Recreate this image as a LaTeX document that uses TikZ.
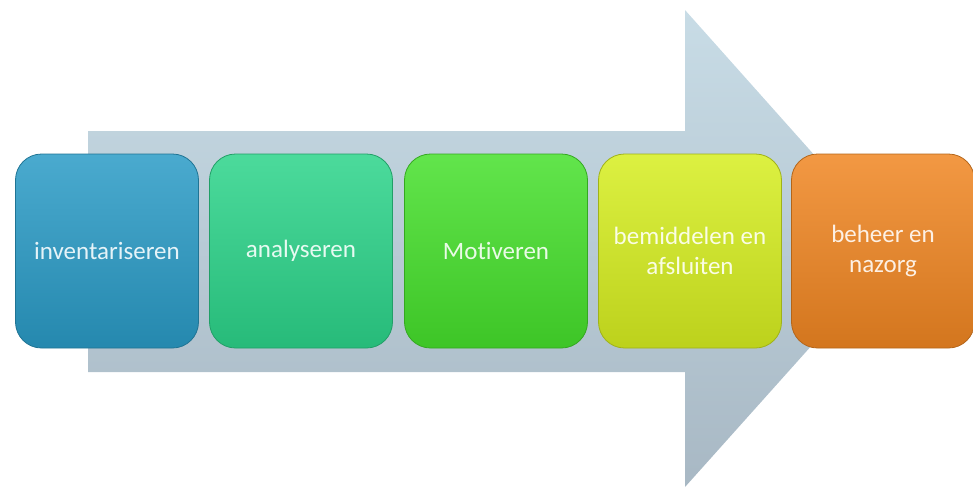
\documentclass[tikz,border=0pt]{standalone}
\usepackage{fontspec}
\setmainfont{Carlito}[Ligatures=NoCommon]
\usepackage{tikz}

\definecolor{pijl}{RGB}{188,205,216}
\definecolor{pijltop}{RGB}{200,220,230}
\definecolor{pijlbodem}{RGB}{168,184,196}
\definecolor{blauw}{RGB}{42,155,198}
\definecolor{groenblauw}{RGB}{44,212,138}
\definecolor{groen}{RGB}{70,224,44}
\definecolor{geelgroen}{RGB}{214,238,32}
\definecolor{oranje}{RGB}{240,134,34}

\begin{document}
\begin{tikzpicture}[x=1pt, y=-1pt,
		stap/.style={rounded corners=26pt, minimum width=183pt, minimum height=194pt,
			align=center, font=\fontsize{25}{30}\selectfont, line width=0.8pt}]
		\useasboundingbox (0, 0) rectangle (973, 488);
		% grote pijl op de achtergrond
		\shade[top color=pijltop, bottom color=pijlbodem]
			(88, 130) -- (685, 130) -- (685, 10) -- (898, 249) -- (685, 487) -- (685, 372) -- (88, 372) -- cycle;
		\draw[white, line width=1.5pt] (88, 130) -- (685, 130);
		% de vijf stappen
		\foreach \naam/\kleur/\x/\tekst in {inv/blauw/107/inventariseren, ana/groenblauw/301/analyseren,
				mot/groen/496/Motiveren, bem/geelgroen/690/{bemiddelen en\\afsluiten}, beh/oranje/883/{beheer en\\nazorg}}
			\node[stap, top color=\kleur!85!white, bottom color=\kleur!88!black, draw=\kleur!75!black,
				text=white!88!\kleur] (\naam) at (\x, 251) {\tekst};
	\end{tikzpicture}
\end{document}
